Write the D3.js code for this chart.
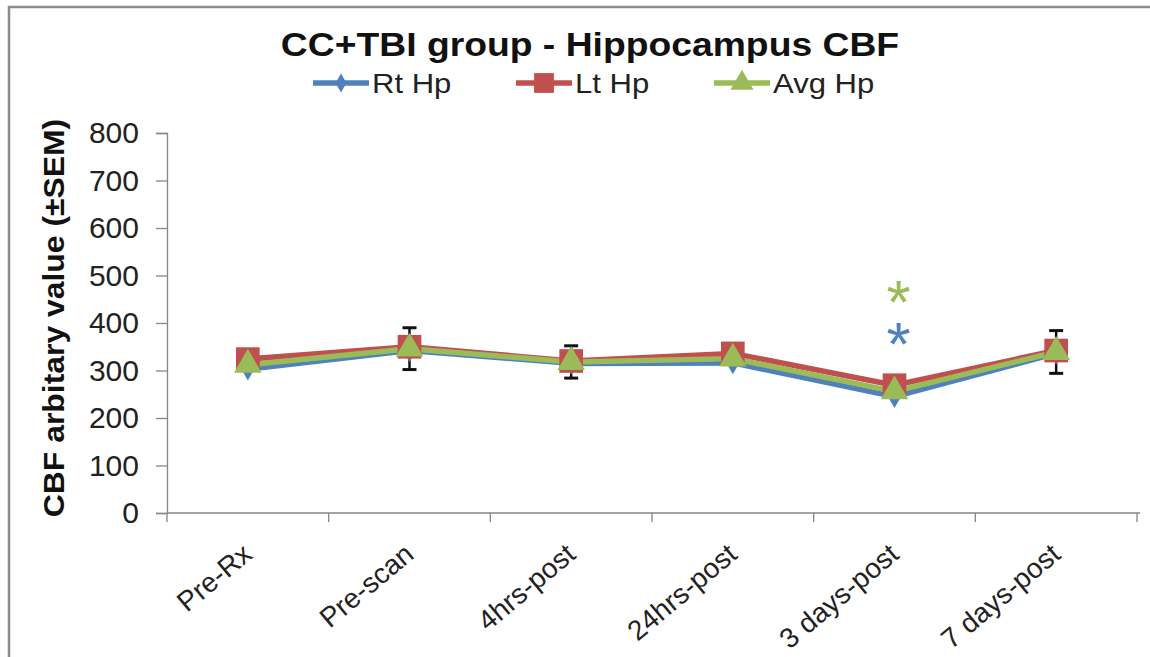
<!DOCTYPE html>
<html>
<head>
<meta charset="utf-8">
<script src="https://cdn.jsdelivr.net/npm/d3@7"></script>
<style>
  body { margin: 0; background: #fff; }
  svg { display: block; font-family: "Liberation Sans", Arial, sans-serif; }
</style>
</head>
<body>
<svg width="1150" height="657"></svg>
<script>
// chart data
const categories = ["Pre-Rx", "Pre-scan", "4hrs-post", "24hrs-post", "3 days-post", "7 days-post"];
const rtHp  = [303, 342, 315, 316, 245, 336];
const ltHp  = [324, 350, 320, 336, 269, 342];
const avgHp = [312, 346, 318, 325, 256, 339];
// +/- SEM shown on the average series (0 = no bar visible)
const avgSem = [0, 44, 34, 0, 0, 45];
const yTicks = [0, 100, 200, 300, 400, 500, 600, 700, 800];

const svg = d3.select("svg");

// frame
svg.append("rect")
  .attr("x", 9).attr("y", 7)
  .attr("width", 1200).attr("height", 700)
  .attr("fill", "none")
  .attr("stroke", "#8c8c8c")
  .attr("stroke-width", 2.5);

const x = d3.scaleBand().domain(categories).range([167, 1137]);
const y = d3.scaleLinear().domain([0, 800]).range([513, 133]);
const cx = d => x(d) + x.bandwidth() / 2;

const colors = { rt: "#4F81BD", lt: "#C0504D", avg: "#9BBB59" };

// y axis
const yAxis = svg.append("g")
  .attr("transform", "translate(167,0)")
  .call(d3.axisLeft(y).tickValues(yTicks).tickSize(11).tickPadding(17));
yAxis.select(".domain").attr("stroke", "#868686").attr("stroke-width", 1.3);
yAxis.selectAll(".tick line").attr("stroke", "#868686").attr("stroke-width", 1.3);
yAxis.selectAll(".tick text")
  .attr("font-size", 30)
  .attr("fill", "#222")
  .attr("font-family", "Liberation Sans, Arial, sans-serif");

// x axis (ticks between categories)
const edges = categories.map(c => x(c)).concat([x.range()[1]]);
svg.append("line")
  .attr("x1", 167).attr("x2", 1140)
  .attr("y1", y(0)).attr("y2", y(0))
  .attr("stroke", "#868686").attr("stroke-width", 1.3);
svg.selectAll(".xtick").data(edges).enter().append("line")
  .attr("x1", d => d).attr("x2", d => d)
  .attr("y1", y(0)).attr("y2", y(0) + 9)
  .attr("stroke", "#868686").attr("stroke-width", 1.3);

svg.selectAll(".xlab").data(categories).enter().append("text")
  .attr("transform", d => "translate(" + (cx(d) + 6) + "," + (y(0) + 44) + ") rotate(-40)")
  .attr("text-anchor", "end")
  .attr("font-size", 28)
  .attr("fill", "#222")
  .text(d => d);

// y label
svg.append("text")
  .attr("transform", "translate(64," + (y(400) - 5) + ") rotate(-90) scale(1.1,1)")
  .attr("text-anchor", "middle")
  .attr("font-size", 29)
  .attr("font-weight", "bold")
  .attr("fill", "#111")
  .text("CBF arbitary value (\u00B1SEM)");

// title
svg.append("text")
  .attr("transform", "translate(590,56) scale(1.13,1)")
  .attr("text-anchor", "middle")
  .attr("font-size", 33)
  .attr("font-weight", "bold")
  .attr("fill", "#111")
  .text("CC+TBI group - Hippocampus CBF");

// error bars (drawn under the markers)
const errG = svg.append("g");
categories.forEach((c, i) => {
  if (!avgSem[i]) return;
  const lo = y(avgHp[i] - avgSem[i]), hi = y(avgHp[i] + avgSem[i]);
  errG.append("line").attr("x1", cx(c)).attr("x2", cx(c)).attr("y1", lo).attr("y2", hi)
    .attr("stroke", "#111").attr("stroke-width", 2.5);
  [lo, hi].forEach(v => errG.append("line")
    .attr("x1", cx(c) - 7).attr("x2", cx(c) + 7).attr("y1", v).attr("y2", v)
    .attr("stroke", "#111").attr("stroke-width", 3));
});

const series = [
  { key: "rt", name: "Rt Hp", values: rtHp, symbol: d3.symbolDiamond, size: 150 },
  { key: "lt", name: "Lt Hp", values: ltHp, symbol: d3.symbolSquare, size: 560 },
  { key: "avg", name: "Avg Hp", values: avgHp, symbol: d3.symbolTriangle, size: 330 }
];

const line = d3.line().x((d, i) => cx(categories[i])).y(d => y(d));

series.forEach(s => {
  svg.append("path")
    .datum(s.values)
    .attr("d", line)
    .attr("fill", "none")
    .attr("stroke", colors[s.key])
    .attr("stroke-width", 5.5)
    .attr("stroke-linejoin", "round");
});
series.forEach(s => {
  svg.selectAll(".m-" + s.key).data(s.values).enter().append("path")
    .attr("d", d3.symbol().type(s.symbol).size(s.size))
    .attr("transform", (d, i) => "translate(" + cx(categories[i]) + "," + y(d) + ")")
    .attr("fill", colors[s.key]);
});

// significance markers at 3 days-post
const c3 = cx("3 days-post");
svg.append("text").attr("x", c3 + 4).attr("y", y(445) + 21)
  .attr("text-anchor", "middle").attr("font-size", 62)
  .attr("fill", colors.avg).text("*");
svg.append("text").attr("x", c3 + 4).attr("y", y(355) + 21)
  .attr("text-anchor", "middle").attr("font-size", 62)
  .attr("fill", colors.rt).text("*");

// legend
const legendX = [313, 516, 714];
const lg = svg.selectAll(".lg").data(series).enter().append("g")
  .attr("transform", (d, i) => "translate(" + legendX[i] + ",83)");
lg.append("line").attr("x1", 0).attr("x2", 56).attr("y1", 0).attr("y2", 0)
  .attr("stroke", d => colors[d.key]).attr("stroke-width", 5.5);
lg.append("path")
  .attr("d", d => d3.symbol().type(d.symbol).size(d.size * 0.7)())
  .attr("transform", "translate(28,0)")
  .attr("fill", d => colors[d.key]);
lg.append("text")
  .attr("transform", "translate(59,10) scale(1.15,1)")
  .attr("font-size", 27).attr("fill", "#222")
  .text(d => d.name);
</script>
</body>
</html>
